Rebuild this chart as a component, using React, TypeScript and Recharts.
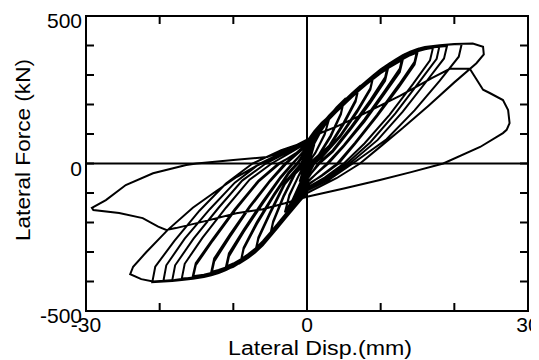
import { LineChart, Line, XAxis, YAxis, ReferenceLine, Customized } from 'recharts'

// displacement (mm), lateral force (kN) traced cycle by cycle
const start: [number, number][] = [[0, 0]]
const cycle1: [number, number][] = [[0.5, 40], [1, 65], [0.6, 30], [0, -10], [-0.5, -38], [-1, -62], [-0.6, -28], [0, 8]]
const cycle3a: [number, number][] = [[1, 68], [2, 114], [3, 150], [2.4, 100], [1.2, 40], [0.2, 0], [0, -15], [-1, -70], [-2, -125], [-3, -165], [-2.4, -110], [-1.2, -45], [-0.2, 0], [0, 15]]
const cycle3b: [number, number][] = [[1, 72], [2, 118], [3, 152], [2.4, 98], [1.1, 34], [0.1, 0], [0, -18], [-1, -74], [-2, -128], [-3, -166], [-2.4, -106], [-1.1, -40], [-0.3, 0], [0, 18]]
const cycle5a: [number, number][] = [[1, 80], [2, 125], [3, 160], [4, 190], [5, 215], [4.6, 170], [3.2, 95], [1.6, 30], [0.3, 0], [0, -20], [-1, -80], [-2, -135], [-3, -180], [-4, -215], [-5, -245], [-4.6, -200], [-3.2, -115], [-1.6, -35], [-0.2, 0], [0, 25]]
const cycle5b: [number, number][] = [[1, 84], [2, 128], [3, 161], [4, 189], [5, 212], [4.6, 166], [3.2, 90], [1.6, 26], [0.4, 0], [0, -24], [-1, -84], [-2, -138], [-3, -182], [-4, -216], [-5, -243], [-4.6, -196], [-3.2, -110], [-1.6, -30], [-0.4, 0], [0, 30]]
const cycle7a: [number, number][] = [[1, 90], [2, 132], [3, 162], [4, 188], [5, 212], [6, 236], [7, 258], [6.6, 215], [5, 140], [3, 60], [0.4, 0], [0, -30], [-1, -95], [-2, -145], [-3, -185], [-4, -218], [-5, -248], [-6, -276], [-7, -300], [-6.6, -255], [-5, -170], [-3, -70], [-0.6, 0], [0, 35]]
const cycle7b: [number, number][] = [[1, 93], [2, 134], [3, 163], [4, 188], [5, 211], [6, 234], [7, 255], [6.6, 210], [5, 134], [3, 55], [0.6, 0], [0, -34], [-1, -98], [-2, -147], [-3, -186], [-4, -218], [-5, -247], [-6, -274], [-7, -297], [-6.6, -250], [-5, -164], [-3, -64], [-0.8, 0], [0, 40]]
const cycle9a: [number, number][] = [[1, 100], [2, 136], [3, 162], [4, 186], [5, 210], [6, 234], [7, 257], [8, 278], [9, 298], [8.6, 255], [6.8, 180], [4.5, 95], [2, 25], [0.8, 0], [0, -45], [-1, -110], [-2, -152], [-3, -186], [-4, -217], [-5, -247], [-6, -277], [-7, -301], [-8, -320], [-9, -336], [-8.6, -290], [-6.8, -205], [-4.5, -110], [-2.5, -35], [-1.2, 0], [0, 45]]
const cycle9b: [number, number][] = [[1, 102], [2, 136], [3, 161], [4, 185], [5, 208], [6, 232], [7, 255], [8, 276], [9, 295], [8.6, 250], [6.8, 174], [4.5, 90], [2, 20], [1, 0], [0, -48], [-1, -112], [-2, -153], [-3, -186], [-4, -217], [-5, -246], [-6, -275], [-7, -299], [-8, -318], [-9, -333], [-8.6, -285], [-6.8, -198], [-4.5, -104], [-2.5, -30], [-1.4, 0], [0, 48]]
const cycle11a: [number, number][] = [[1, 104], [2, 136], [3, 160], [4, 184], [5, 209], [6, 233], [7, 256], [8, 277], [9, 298], [10, 318], [11, 336], [10.6, 292], [8.6, 215], [6, 125], [3.5, 45], [1.5, 0], [0, -55], [-1, -115], [-2, -153], [-3, -185], [-4, -216], [-5, -246], [-6, -276], [-7, -300], [-8, -319], [-9, -335], [-10, -349], [-11, -361], [-10.6, -315], [-8.6, -232], [-6, -135], [-3.6, -50], [-1.9, 0], [0, 55]]
const cycle11b: [number, number][] = [[1, 92], [2, 124], [3, 150], [4, 175], [5, 200], [6, 224], [7, 247], [8, 268], [9, 288], [10, 306], [11, 322], [10.6, 280], [8.6, 205], [6, 118], [3.5, 40], [1.7, 0], [0, -50], [-1, -105], [-2, -142], [-3, -174], [-4, -205], [-5, -234], [-6, -263], [-7, -288], [-8, -308], [-9, -325], [-10, -339], [-11, -350], [-10.6, -305], [-8.6, -225], [-6, -128], [-3.6, -45], [-2, 0], [0, 52]]
const cycle13a: [number, number][] = [[1, 106], [2, 135], [3, 159], [4, 183], [5, 208], [6, 232], [7, 255], [8, 276], [9, 297], [10, 317], [11, 334], [12, 350], [13, 366], [12.6, 322], [10.5, 245], [7.8, 150], [5, 62], [2.7, 0], [0, -65], [-1, -118], [-2, -154], [-3, -185], [-4, -215], [-5, -245], [-6, -275], [-7, -299], [-8, -318], [-9, -334], [-10, -348], [-11, -360], [-12, -370], [-13, -378], [-12.6, -332], [-10.5, -250], [-7.8, -150], [-5, -60], [-2.8, 0], [0, 62]]
const cycle13b: [number, number][] = [[1, 96], [2, 126], [3, 151], [4, 175], [5, 199], [6, 223], [7, 246], [8, 267], [9, 287], [10, 306], [11, 323], [12, 338], [13, 352], [12.6, 310], [10.5, 236], [7.8, 142], [5, 58], [2.9, 0], [0, -62], [-1, -110], [-2, -145], [-3, -176], [-4, -206], [-5, -235], [-6, -264], [-7, -289], [-8, -309], [-9, -326], [-10, -340], [-11, -352], [-12, -361], [-13, -368], [-12.6, -322], [-10.5, -242], [-7.8, -145], [-5, -56], [-3, 0], [0, 60]]
const cycle15a: [number, number][] = [[1, 107], [2, 135], [3, 158], [4, 182], [5, 207], [6, 232], [7, 255], [8, 276], [9, 297], [10, 317], [11, 334], [12, 350], [13, 365], [14, 378], [15, 388], [14.6, 345], [12.5, 268], [9.5, 165], [6.5, 70], [4.1, 0], [2, -40], [0, -75], [-1, -122], [-2, -155], [-3, -185], [-4, -215], [-5, -245], [-6, -274], [-7, -299], [-8, -318], [-9, -334], [-10, -348], [-11, -360], [-12, -370], [-13, -378], [-14, -384], [-15.5, -390], [-15.1, -345], [-12.8, -262], [-9.8, -160], [-6.6, -62], [-3.7, 0], [-1.5, 35], [0, 68]]
const cycle15b: [number, number][] = [[1, 98], [2, 127], [3, 151], [4, 175], [5, 199], [6, 223], [7, 246], [8, 267], [9, 287], [10, 306], [11, 323], [12, 339], [13, 354], [14, 367], [15, 377], [14.6, 335], [12.5, 260], [9.5, 160], [6.5, 66], [4.3, 0], [2, -42], [0, -72], [-1, -114], [-2, -147], [-3, -177], [-4, -207], [-5, -236], [-6, -265], [-7, -290], [-8, -310], [-9, -327], [-10, -341], [-11, -353], [-12, -363], [-13, -371], [-14, -377], [-15.5, -382], [-15.1, -338], [-12.8, -256], [-9.8, -155], [-6.6, -58], [-3.9, 0], [-1.5, 32], [0, 66]]
const cycle17: [number, number][] = [[1, 100], [2, 128], [3, 152], [4, 176], [5, 200], [6, 224], [7, 247], [8, 268], [9, 289], [10, 308], [11, 326], [12, 342], [13, 357], [14, 370], [15, 380], [16, 387], [17.1, 392], [16.7, 350], [14.4, 270], [11.2, 165], [7.8, 68], [5, 0], [2.4, -48], [0, -82], [-1, -120], [-2, -152], [-3, -182], [-4, -212], [-5, -242], [-6, -271], [-7, -296], [-8, -315], [-9, -331], [-10, -345], [-11, -357], [-12, -367], [-13, -375], [-14, -381], [-15.5, -387], [-17, -390], [-16.6, -340], [-14.2, -252], [-11, -150], [-7.8, -55], [-4.8, 0], [-2.2, 38], [0, 70]]
const cycle18: [number, number][] = [[1, 108], [2, 136], [3, 158], [4, 182], [5, 207], [6, 232], [7, 255], [8, 276], [9, 297], [10, 317], [11, 334], [12, 350], [13, 365], [14, 378], [15, 388], [16, 394], [18, 400], [17.6, 355], [15.2, 275], [12, 170], [8.6, 72], [5.4, 0], [2.5, -50], [0, -85], [-1, -124], [-2, -155], [-3, -185], [-4, -215], [-5, -245], [-6, -274], [-7, -299], [-8, -318], [-9, -334], [-10, -348], [-11, -360], [-12, -370], [-13, -378], [-14, -384], [-15.5, -390], [-17, -394], [-18.3, -397], [-17.9, -345], [-15.4, -255], [-12, -150], [-8.8, -58], [-5.6, 0], [-2.5, 40], [0, 72]]
const cycle19: [number, number][] = [[1, 102], [2, 130], [3, 153], [4, 177], [5, 201], [6, 225], [7, 248], [8, 270], [9, 290], [10, 310], [11, 328], [12, 344], [13, 359], [14, 372], [15, 382], [16, 389], [17.5, 395], [19, 398], [18.6, 356], [16.2, 278], [13, 176], [9.6, 80], [5.8, 0], [2.8, -52], [0, -88], [-1, -124], [-2, -156], [-3, -186], [-4, -216], [-5, -246], [-6, -275], [-7, -300], [-8, -319], [-9, -335], [-10, -349], [-11, -361], [-12, -371], [-13, -379], [-14, -385], [-15.5, -391], [-17, -395], [-18.3, -398], [-19.5, -399], [-19.1, -345], [-16.6, -255], [-13.2, -155], [-9.8, -65], [-6.4, 0], [-3, 42], [0, 73]]
const cycle21: [number, number][] = [[1, 108], [2, 137], [3, 159], [4, 182], [5, 207], [6, 232], [7, 255], [8, 277], [9, 298], [10, 318], [11, 335], [12, 351], [13, 366], [14, 379], [15, 388], [16, 395], [18, 401], [20, 404], [21, 405], [20.6, 362], [18, 280], [14.6, 180], [10.8, 82], [6.2, 0], [3, -55], [0, -92], [-1, -126], [-2, -156], [-3, -186], [-4, -216], [-5, -246], [-6, -275], [-7, -300], [-8, -319], [-9, -335], [-10, -349], [-11, -361], [-12, -371], [-13, -379], [-14, -385], [-15.5, -391], [-17, -395], [-18.3, -398], [-21, -402], [-20.6, -350], [-18, -262], [-14.6, -160], [-11, -68], [-7.4, 0], [-3.5, 45], [0, 75]]
const cycle24: [number, number][] = [[1, 110], [2, 138], [3, 160], [4, 183], [5, 208], [6, 233], [7, 256], [8, 278], [9, 299], [10, 319], [11, 336], [12, 352], [13, 367], [14, 379], [16, 395], [18, 401], [20, 405], [22.5, 407], [23.9, 396], [24, 370], [23, 340], [20, 275], [16.5, 196], [13, 120], [10, 58], [7.2, 0], [4, -50], [0, -100], [-1, -128], [-2, -158], [-3, -188], [-4, -218], [-5, -248], [-6, -277], [-7, -301], [-8.7, -330], [-10, -350], [-12, -368], [-15, -385], [-18, -395], [-20.9, -400], [-22.5, -392], [-24, -375], [-23.6, -350], [-21.8, -300], [-18.9, -225], [-15.5, -150], [-12.4, -95], [-9.5, -45], [-7, -10], [-6.2, 0], [-3, 40], [0, 75]]
const cycleFinal: [number, number][] = [[0.4, 86], [2, 105], [4, 125], [7, 160], [10, 197], [12.6, 229], [15, 262], [17, 290], [19.4, 321], [22.1, 321], [23.9, 250], [24.8, 239], [26.6, 215], [27.3, 181], [27.5, 137], [27.1, 114], [26.6, 103], [23.5, 56], [18.5, 0], [14, -30], [9.9, -56], [5, -85], [0, -113], [-3, -135], [-6, -155], [-9.6, -169], [-14.1, -197], [-17.8, -219], [-19.1, -225], [-20.2, -214], [-22.3, -185], [-25.5, -168], [-29, -158], [-29.2, -150], [-27.3, -124], [-24.6, -73], [-20.9, -33], [-16.4, -5], [-15, 0], [-10, 12], [-5.4, 22], [-1.9, 56], [0.4, 86]]

const xTicks = [-30, -20, -10, 0, 10, 20, 30]
const yTicks = [-500, -400, -300, -200, -100, 0, 100, 200, 300, 400, 500]
const xLabeled = [-30, 0, 30]
const yLabeled = [-500, 0, 500]

const data = [
  start, cycle1, cycle3a, cycle3b, cycle5a, cycle5b, cycle7a, cycle7b, cycle9a, cycle9b,
  cycle11a, cycle11b, cycle13a, cycle13b, cycle15a, cycle15b, cycle17, cycle18, cycle19,
  cycle21, cycle24, cycleFinal,
].flat().map(([x, y]) => ({ x, y }))

const FONT = '"Liberation Sans", Arial, sans-serif'
const W = 531
const H = 352
const PLOT_LEFT = 78
const PLOT_TOP = 8
const PLOT_RIGHT = 520
const PLOT_BOTTOM = 303
const X_MIN = -30
const X_MAX = 30
const Y_MIN = -500
const Y_MAX = 500
const TICK = 8

const px = (v: number) => PLOT_LEFT + ((v - X_MIN) / (X_MAX - X_MIN)) * (PLOT_RIGHT - PLOT_LEFT)
const py = (v: number) => PLOT_BOTTOM - ((v - Y_MIN) / (Y_MAX - Y_MIN)) * (PLOT_BOTTOM - PLOT_TOP)

// plot frame with inward ticks on all four sides
function Frame() {
  const lines: JSX.Element[] = []
  xTicks.forEach((t) => {
    const x = px(t)
    lines.push(<line key={`b${t}`} x1={x} x2={x} y1={PLOT_BOTTOM} y2={PLOT_BOTTOM - TICK} />)
    lines.push(<line key={`t${t}`} x1={x} x2={x} y1={PLOT_TOP} y2={PLOT_TOP + TICK} />)
  })
  yTicks.forEach((t) => {
    const y = py(t)
    lines.push(<line key={`l${t}`} x1={PLOT_LEFT} x2={PLOT_LEFT + TICK} y1={y} y2={y} />)
    lines.push(<line key={`r${t}`} x1={PLOT_RIGHT - TICK} x2={PLOT_RIGHT} y1={y} y2={y} />)
  })
  return (
    <g stroke="#000" strokeWidth={2}>
      <rect x={PLOT_LEFT} y={PLOT_TOP} width={PLOT_RIGHT - PLOT_LEFT} height={PLOT_BOTTOM - PLOT_TOP} fill="none" />
      {lines}
    </g>
  )
}

function BottomTick({ x, payload }: any) {
  if (!xLabeled.includes(payload.value)) return null
  return (
    <text x={x} y={PLOT_BOTTOM + 21} textAnchor="middle" fontSize={21} fontFamily={FONT} fill="#000">
      {payload.value}
    </text>
  )
}

function LeftTick({ y, payload }: any) {
  if (!yLabeled.includes(payload.value)) return null
  return (
    <text x={PLOT_LEFT - 4} y={y + 12} textAnchor="end" fontSize={21} fontFamily={FONT} fill="#000">
      {payload.value}
    </text>
  )
}

function XTitle() {
  return (
    <text x={312} y={347} textAnchor="middle" fontSize={20} fontFamily={FONT} fill="#000"
      textLength={184} lengthAdjust="spacingAndGlyphs">
      Lateral Disp.(mm)
    </text>
  )
}

function YTitle() {
  return (
    <text x={0} y={0} transform="translate(22,142) rotate(-90)" textAnchor="middle" fontSize={20}
      fontFamily={FONT} fill="#000" textLength={182} lengthAdjust="spacingAndGlyphs">
      Lateral Force (kN)
    </text>
  )
}

const axisLine = { stroke: '#000', strokeWidth: 2 }

export default function App() {
  return (
    <LineChart width={W} height={H} data={data}
      margin={{ top: PLOT_TOP, right: W - PLOT_RIGHT, bottom: 0, left: 0 }}>
      <XAxis xAxisId="b" dataKey="x" type="number" domain={[X_MIN, X_MAX]} ticks={xTicks} interval={0}
        height={H - PLOT_BOTTOM} axisLine={axisLine} tickLine={false}
        tick={<BottomTick />} label={<XTitle />} />
      <YAxis yAxisId="l" type="number" domain={[Y_MIN, Y_MAX]} ticks={yTicks} interval={0}
        width={PLOT_LEFT} axisLine={axisLine} tickLine={false}
        tick={<LeftTick />} label={<YTitle />} />
      <Customized component={<Frame />} />
      <ReferenceLine xAxisId="b" yAxisId="l" x={0} stroke="#000" strokeWidth={2} />
      <ReferenceLine xAxisId="b" yAxisId="l" y={0} stroke="#000" strokeWidth={2} />
      <Line xAxisId="b" yAxisId="l" dataKey="y" type="linear" stroke="#000" strokeWidth={2}
        dot={false} isAnimationActive={false} />
    </LineChart>
  )
}
